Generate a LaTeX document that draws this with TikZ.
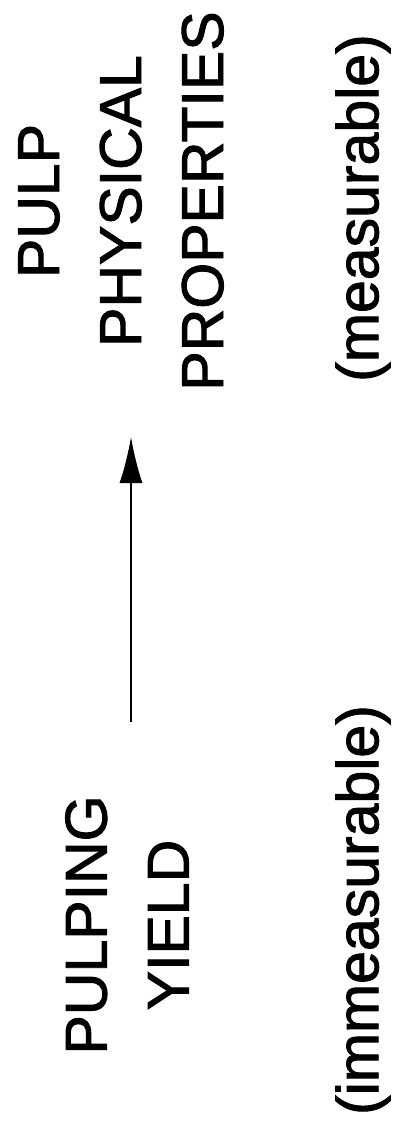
\documentclass[tikz,border=0pt]{standalone}
\usepackage{fontspec}
\setmainfont{Liberation Sans}[BoldFont=Liberation Sans, BoldFeatures={FakeBold=1.6}]
\usetikzlibrary{arrows.meta,positioning}

\tikzset{
    label text/.style={rotate=90, align=center, inner sep=0pt,
        font=\fontsize{59}{82}\selectfont\bfseries},
    flow arrow/.style={line width=1.3pt, -{Latex[length=46pt,width=23pt]}}
}

\begin{document}
\begin{tikzpicture}[x=1pt,y=1pt]
    % Batas gambar
    \useasboundingbox (0,0) rectangle (398,-1134);

    % Besaran yang diukur
    \node[label text] (pulp) at (121,-201) {PULP\\PHYSICAL\\PROPERTIES};
    \node[label text] (meas) at (363,-208) {(measurable)};

    % Besaran yang tidak terukur
    \node[label text] (yield) at (127,-925) {PULPING\\YIELD};
    \node[label text] (immeas) at (363,-910) {(immeasurable)};

    % Panah hubungan
    \coordinate (tail) at (131,-722);
    \coordinate (tip) at (131,-437);
    \draw[flow arrow] (tail) -- (tip);
\end{tikzpicture}
\end{document}
